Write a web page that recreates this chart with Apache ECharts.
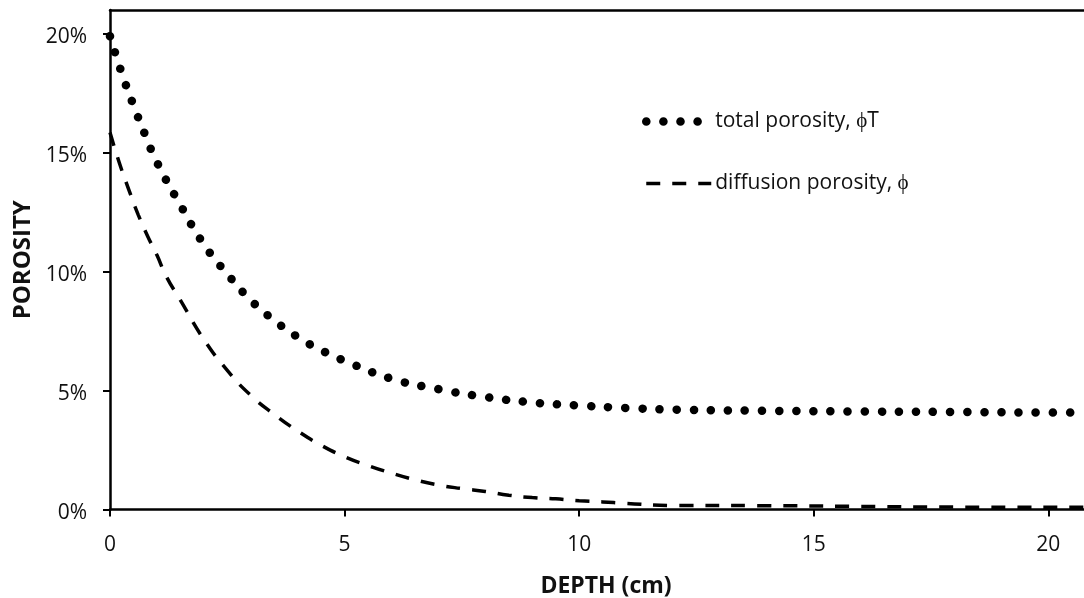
<!DOCTYPE html>
<html>
<head>
<meta charset="utf-8">
<script src="https://cdn.jsdelivr.net/npm/echarts@6/dist/echarts.min.js"></script>
<style>
html,body{margin:0;padding:0;background:#fff;}
#chart{width:1084px;height:598px;}
</style>
</head>
<body>
<div id="chart"></div>
<script>
// Depth (cm) and porosity (%)
const depthTotal = [0, 0.25, 0.5, 0.75, 1.0, 1.5, 2.0, 2.5, 3.0, 3.5, 4.0, 4.5, 5.0, 6.0, 7.0, 8.0, 9.0, 10.0, 11.0, 12.0, 14.0, 16.0, 18.0, 20.0, 20.8];
const totalPorosity = [19.9, 18.35, 17.0, 15.75, 14.6, 12.8, 11.15, 9.9, 8.8, 7.95, 7.25, 6.7, 6.25, 5.5, 5.06, 4.73, 4.5, 4.37, 4.27, 4.2, 4.15, 4.12, 4.1, 4.08, 4.08];

const depthDiffusion = [0, 0.2, 0.4, 0.6, 0.8, 1.0, 1.2, 1.5, 2.0, 2.5, 3.0, 3.5, 4.0, 4.5, 5.0, 5.5, 6.0, 6.5, 7.0, 7.5, 8.0, 8.5, 9.0, 9.5, 10.0, 10.5, 11.0, 12.0, 14.0, 16.0, 18.0, 20.8];
const diffusionPorosity = [15.85, 14.57, 13.45, 12.4, 11.5, 10.7, 9.8, 8.8, 7.15, 5.85, 4.8, 4.0, 3.3, 2.7, 2.22, 1.85, 1.53, 1.25, 1.03, 0.88, 0.76, 0.6, 0.5, 0.45, 0.37, 0.32, 0.26, 0.17, 0.16, 0.13, 0.1, 0.09];

const xTicks = [0, 5, 10, 15, 20];
const yTicks = [0, 5, 10, 15, 20];
const seriesNames = ['total porosity, \u03D5T', 'diffusion porosity, \u03D5'];

const FONT = 'Open Sans';
const TXT = '#111';

const chart = echarts.init(document.getElementById('chart'), null, {renderer: 'canvas'});

const dottedStyle = {color: '#000', width: 8.5, type: [0.1, 17], cap: 'round'};
const dashedStyle = {color: '#000', width: 3.5, type: [14, 12], cap: 'butt'};

chart.setOption({
  animation: false,
  backgroundColor: '#fff',
  grid: {left: 110, right: 0, top: 10, bottom: 88.5, containLabel: false, outerBoundsMode: 'none'},
  legend: {
    orient: 'vertical',
    left: 637,
    top: 106,
    itemWidth: 65,
    itemHeight: 20,
    itemGap: 41,
    textStyle: {fontFamily: FONT, fontSize: 21, color: TXT, padding: [4, 0, 0, -1]},
    data: [
      {name: seriesNames[0], lineStyle: dottedStyle, itemStyle: {color: '#000', opacity: 0}},
      {name: seriesNames[1], lineStyle: dashedStyle, itemStyle: {color: '#000', opacity: 0}}
    ]
  },
  xAxis: [{
    type: 'value',
    min: 0,
    max: 20.76,
    name: 'DEPTH (cm)',
    nameLocation: 'middle',
    nameGap: 65,
    nameTextStyle: {fontFamily: FONT, fontSize: 23, fontWeight: 'bold', color: TXT, padding: [0, 0, 0, 18]},
    axisLine: {show: true, lineStyle: {color: '#000', width: 2.5}},
    axisTick: {show: true, inside: false, length: 7, lineStyle: {color: '#000', width: 2}, customValues: xTicks},
    axisLabel: {fontFamily: FONT, fontSize: 21, color: TXT, margin: 25, customValues: xTicks},
    splitLine: {show: false}
  }, {
    type: 'value',
    position: 'top',
    min: 0,
    max: 20.76,
    axisLine: {show: true, lineStyle: {color: '#000', width: 2.5}},
    axisTick: {show: false},
    axisLabel: {show: false},
    splitLine: {show: false}
  }],
  yAxis: {
    type: 'value',
    min: 0,
    max: 21,
    name: 'POROSITY',
    nameLocation: 'middle',
    nameGap: 74,
    nameTextStyle: {fontFamily: FONT, fontSize: 24, fontWeight: 'bold', color: TXT},
    axisLine: {show: true, lineStyle: {color: '#000', width: 2.5}},
    axisTick: {show: true, inside: false, length: 7, lineStyle: {color: '#000', width: 2}, customValues: yTicks},
    axisLabel: {fontFamily: FONT, fontSize: 21, color: TXT, margin: 23, formatter: '{value}%', verticalAlign: 'top', lineHeight: 7, customValues: yTicks},
    splitLine: {show: false}
  },
  series: [{
    name: seriesNames[0],
    type: 'line',
    xAxisIndex: 0,
    smooth: true,
    symbol: 'none',
    clip: false,
    lineStyle: dottedStyle,
    itemStyle: {color: '#000'},
    data: depthTotal.map((d, i) => [d, totalPorosity[i]])
  }, {
    name: seriesNames[1],
    type: 'line',
    xAxisIndex: 0,
    smooth: true,
    symbol: 'none',
    clip: false,
    lineStyle: dashedStyle,
    itemStyle: {color: '#000'},
    data: depthDiffusion.map((d, i) => [d, diffusionPorosity[i]])
  }]
});
</script>
</body>
</html>
